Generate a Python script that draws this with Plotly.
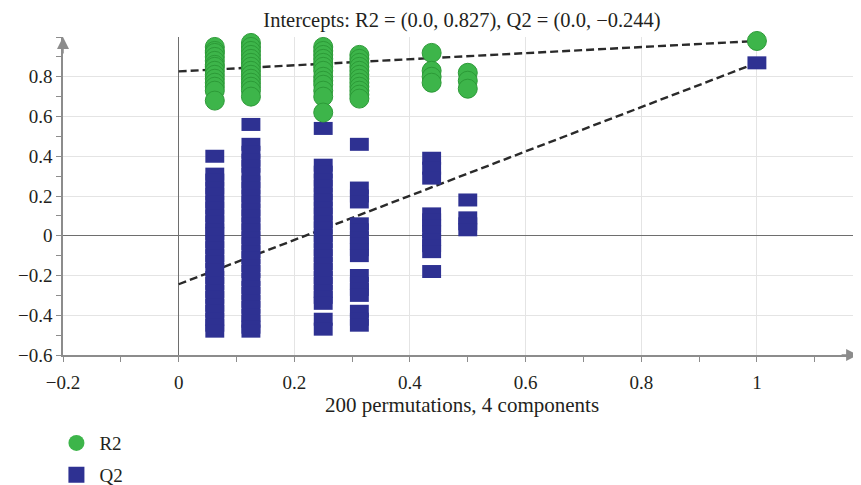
import plotly.graph_objects as go

# ---- data ----
col_x = [0.0625, 0.125, 0.25, 0.3125, 0.4375, 0.5, 1.0]

r2_cols = [
    [0.95, 0.93, 0.92, 0.90, 0.88, 0.86, 0.85, 0.83, 0.81, 0.79, 0.77, 0.75, 0.73, 0.68],
    [0.97, 0.95, 0.93, 0.91, 0.89, 0.87, 0.85, 0.83, 0.81, 0.79, 0.77, 0.75, 0.73, 0.70],
    [0.95, 0.93, 0.91, 0.89, 0.87, 0.85, 0.83, 0.80, 0.78, 0.76, 0.73, 0.70, 0.62],
    [0.91, 0.89, 0.87, 0.85, 0.83, 0.81, 0.79, 0.77, 0.75, 0.73, 0.71, 0.69],
    [0.92, 0.83, 0.80, 0.77],
    [0.82, 0.78, 0.74],
    [0.98],
]

q2_cols = [
    [0.40, 0.31, 0.28, 0.24, 0.21, 0.17, 0.14, 0.10, 0.07, 0.03, 0.01, -0.03, -0.06,
     -0.10, -0.13, -0.17, -0.21, -0.24, -0.28, -0.31, -0.35, -0.38, -0.42, -0.45, -0.48],
    [0.56, 0.46, 0.42, 0.38, 0.35, 0.31, 0.27, 0.24, 0.20, 0.17, 0.13, 0.10, 0.06, 0.03,
     -0.01, -0.04, -0.08, -0.11, -0.15, -0.18, -0.22, -0.26, -0.29, -0.33, -0.36,
     -0.40, -0.43, -0.46, -0.48],
    [0.54, 0.355, 0.32, 0.28, 0.25, 0.21, 0.18, 0.14, 0.11, 0.07, 0.04, 0.00, -0.03,
     -0.07, -0.10, -0.14, -0.17, -0.21, -0.24, -0.28, -0.31, -0.34, -0.42, -0.47],
    [0.46, 0.24, 0.20, 0.17, 0.06, 0.03, -0.01, -0.04, -0.07, -0.10,
     -0.20, -0.24, -0.27, -0.30, -0.38, -0.42, -0.45],
    [0.39, 0.34, 0.29, 0.11, 0.08, 0.05, 0.02, -0.02, -0.05, -0.08, -0.18],
    [0.18, 0.09, 0.06, 0.03],
    [0.87],
]

intercept_x = [0.0, 1.0]
r2_line = [0.827, 0.98]
q2_line = [-0.244, 0.87]

x_ticks = [-0.2, 0, 0.2, 0.4, 0.6, 0.8, 1.0]
x_tick_text = ["\u22120.2", "0", "0.2", "0.4", "0.6", "0.8", "1"]
y_ticks = [-0.6, -0.4, -0.2, 0, 0.2, 0.4, 0.6, 0.8]
y_tick_text = ["\u22120.6", "\u22120.4", "\u22120.2", "0", "0.2", "0.4", "0.6", "0.8"]

title_text = "Intercepts: R2 = (0.0, 0.827), Q2 = (0.0, \u22120.244)"
x_title = "200 permutations, 4 components"

# ---- build point tables ----
r2_x, r2_y, q2_x, q2_y = [], [], [], []
for cx, vals in zip(col_x, r2_cols):
    r2_x += [cx] * len(vals)
    r2_y += vals
for cx, vals in zip(col_x, q2_cols):
    q2_x += [cx] * len(vals)
    q2_y += vals

GREEN = "#3db54a"
GREEN_EDGE = "#2c9a37"
BLUE = "#2e3192"
FONT = "Liberation Serif"
AX = "#8c8c8c"

# the page body adds an 8 px offset; figure is sized so the plot lands where the reference has it
W, H = 853, 477

fig = go.Figure()

# dashed regression lines (behind markers)
for ys in (r2_line, q2_line):
    fig.add_trace(go.Scatter(x=intercept_x, y=ys, mode="lines", showlegend=False,
                             line=dict(color="#2a2a2a", width=2.4, dash="8px,4px"),
                             hoverinfo="skip"))

# Q2 rectangles (wide bars via thick horizontal line markers)
fig.add_trace(go.Scatter(x=q2_x, y=q2_y, mode="markers", showlegend=False, name="Q2",
                         cliponaxis=False,
                         marker=dict(symbol="line-ew", size=13.5, color=BLUE,
                                     line=dict(color=BLUE, width=13))))
# R2 ellipses
fig.add_trace(go.Scatter(x=r2_x, y=r2_y, mode="markers", showlegend=False, name="R2",
                         cliponaxis=False,
                         marker=dict(symbol="circle", size=19, color=GREEN,
                                     line=dict(color=GREEN_EDGE, width=1))))

# legend-only entries
fig.add_trace(go.Scatter(x=[None], y=[None], mode="markers", name="R2", legend="legend",
                         marker=dict(symbol="circle", size=16, color=GREEN)))
fig.add_trace(go.Scatter(x=[None], y=[None], mode="markers", name="Q2", legend="legend2",
                         marker=dict(symbol="square", size=16, color=BLUE)))

fig.update_layout(
    width=W, height=H,
    margin=dict(l=55, r=0, t=29, b=130, autoexpand=False),
    paper_bgcolor="white", plot_bgcolor="white",
    font=dict(family=FONT, size=19, color="#231f20"),
    title=dict(text=title_text, x=0.5, xref="paper", xanchor="center",
               y=1 - 11.5 / H, yanchor="middle", automargin=False,
               font=dict(family=FONT, size=20.5)),
    legend=dict(x=-0.012, y=-0.277, xanchor="left", yanchor="middle", itemwidth=36,
                bgcolor="rgba(0,0,0,0)", font=dict(family=FONT, size=19)),
    legend2=dict(x=-0.012, y=-0.377, xanchor="left", yanchor="middle", itemwidth=36,
                 bgcolor="rgba(0,0,0,0)", font=dict(family=FONT, size=19)),
    showlegend=True,
)

fig.update_xaxes(
    range=[-0.2, 1.18], tickvals=x_ticks, ticktext=x_tick_text, automargin=False,
    showgrid=True, gridcolor="#e4e4e4", gridwidth=1,
    zeroline=True, zerolinecolor="#6e6e6e", zerolinewidth=1.2,
    showline=True, linecolor=AX, linewidth=1.5,
    ticks="outside", ticklen=5, tickcolor=AX, tickwidth=1,
    minor=dict(dtick=0.1, tick0=0, ticks="outside", ticklen=5, tickcolor=AX, showgrid=False),
    ticklabelstandoff=4,
    title=dict(text=x_title, standoff=6, font=dict(family=FONT, size=21)),
    tickfont=dict(family=FONT, size=19),
)
fig.update_yaxes(
    range=[-0.6, 1.0], tickvals=y_ticks, ticktext=y_tick_text, automargin=False,
    showgrid=True, gridcolor="#e4e4e4", gridwidth=1,
    zeroline=True, zerolinecolor="#6e6e6e", zerolinewidth=1.2,
    showline=True, linecolor=AX, linewidth=1.5,
    ticks="outside", ticklen=5, tickcolor=AX, tickwidth=1,
    minor=dict(dtick=0.1, tick0=0, ticks="outside", ticklen=5, tickcolor=AX, showgrid=False),
    tickfont=dict(family=FONT, size=19),
)

# axis arrowheads
fig.add_annotation(x=-0.2, y=1.0, xref="x", yref="y", ax=0, ay=18, text="",
                   showarrow=True, arrowhead=2, arrowsize=1.6, arrowwidth=1.5, arrowcolor=AX)
fig.add_annotation(x=1.175, y=-0.6, xref="x", yref="y", ax=-18, ay=0, text="",
                   showarrow=True, arrowhead=2, arrowsize=1.6, arrowwidth=1.5, arrowcolor=AX)

fig.write_html("out.html")
